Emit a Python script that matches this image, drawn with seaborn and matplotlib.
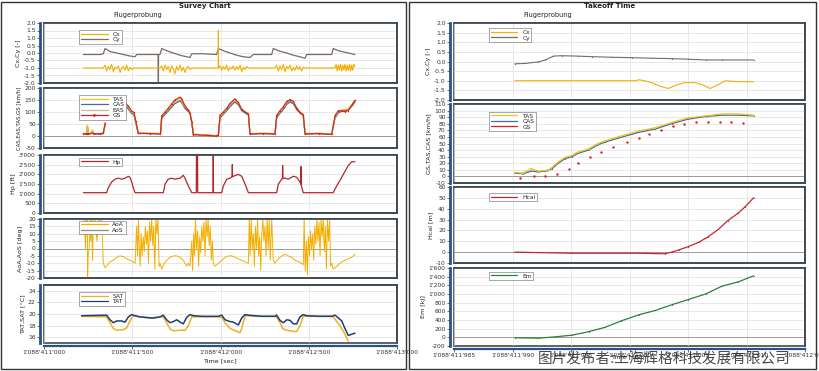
import numpy as np
import pandas as pd
import matplotlib
matplotlib.use("Agg")
import matplotlib.pyplot as plt
from matplotlib.ticker import FuncFormatter
from matplotlib.lines import Line2D
from matplotlib.patches import Rectangle
import seaborn as sns

# ======================= DATA =======================
LEFT_T0 = 1088411000
RIGHT_T0 = 1088411985

# ---- left panel (Survey Chart), time offsets in s ----
CX_T = [223, 300,
        336, 346, 355, 364, 374, 383, 393, 402, 412, 421, 431, 440, 449, 459, 468, 478, 487, 497, 506, 516,
        600,
        657, 667, 676, 686, 695, 704, 714, 723, 733, 741, 752, 761, 771, 780, 789, 799, 808, 818, 827, 837,
        920, 987, 988, 989,
        997, 1007, 1016, 1026, 1035, 1045, 1054, 1064, 1073, 1082, 1092, 1101, 1111, 1120, 1129, 1139, 1148, 1158,
        1230,
        1309, 1318, 1328, 1337, 1347, 1356, 1366, 1375, 1384, 1394, 1403, 1413, 1422, 1432, 1441, 1450, 1460, 1469, 1479,
        1560,
        1649, 1655, 1661, 1668, 1674, 1680, 1687, 1693, 1699, 1705, 1712, 1718, 1724, 1731, 1737, 1743, 1749, 1755, 1762]
CX_V = [-1.0, -1.0,
        -1.0, -0.8, -1.2, -0.9, -1.1, -0.75, -1.25, -0.95, -1.05, -0.85, -1.3, -1.0, -0.9, -1.15, -0.8, -1.2, -0.95, -1.1, -1.0, -1.0,
        -1.0,
        -1.0, -0.85, -1.2, -0.8, -1.1, -0.9, -1.3, -0.85, -1.05, -1.4, -0.9, -1.15, -0.8, -1.2, -0.95, -1.3, -1.0, -0.9, -1.1, -1.0,
        -1.0, -1.0, 1.5, -1.0,
        -0.85, -1.15, -0.9, -1.1, -0.8, -1.2, -0.95, -1.05, -0.85, -1.15, -0.9, -1.1, -0.8, -1.25, -0.95, -1.1, -0.9, -1.0,
        -1.0,
        -1.0, -0.8, -1.2, -0.85, -1.1, -0.75, -1.25, -0.9, -1.05, -0.8, -1.2, -0.95, -1.15, -0.85, -1.1, -0.9, -1.2, -0.95, -1.0,
        -1.0,
        -1.0, -0.75, -1.2, -0.8, -1.15, -0.75, -1.2, -0.8, -1.15, -0.75, -1.2, -0.8, -1.15, -0.75, -1.2, -0.8, -1.15, -0.75, -0.9]

CY_T = [223, 320, 336, 346, 374, 412, 449, 487, 516, 525,
        600, 647, 648, 649, 657, 667, 695, 733, 771, 808,
        827, 837, 900, 978, 988, 1016, 1054, 1092, 1129, 1167,
        1186, 1290, 1299, 1328, 1375, 1413, 1450, 1479, 1488, 1630,
        1639, 1668, 1705, 1743, 1762]
CY_V = [-0.1, -0.1, -0.05, 0.3, 0.1, 0.0, -0.1, -0.2, -0.25, -0.1,
        -0.1, -0.1, -2.0, -0.1, -0.1, 0.3, 0.15, 0.0, -0.15, -0.25,
        -0.3, -0.05, -0.05, -0.1, 0.3, 0.15, 0.0, -0.15, -0.25, -0.3,
        -0.1, -0.1, 0.3, 0.15, 0.0, -0.15, -0.25, -0.35, -0.1, -0.1,
        0.3, 0.15, 0.05, -0.05, -0.1]

SPD_T = [223, 240, 246, 252, 270, 275, 281, 320, 336, 346, 380,
         431, 450, 478, 497, 510, 520, 534, 600, 660,
         667, 686, 704, 723, 741, 771, 780, 799, 818, 827, 837, 846, 920, 975,
         988, 997, 1016, 1035, 1054, 1082, 1101, 1120, 1139, 1158, 1167, 1240,
         1309, 1318, 1337, 1356, 1375, 1394, 1413, 1432, 1450, 1469, 1479, 1560,
         1630, 1649, 1668, 1687, 1705, 1724, 1743, 1762]
TAS_V = [10, 10, 45, 10, 12, 25, 10, 10, 12, 50, np.nan,
         145, 140, 120, 100, 95, 60, 12, 12, 11,
         82, 96, 112, 128, 145, 158, 150, 122, 110, 100, 62, 8, 5, 2,
         5, 82, 96, 112, 132, 152, 138, 112, 102, 95, 10, 12,
         10, 82, 102, 118, 140, 150, 142, 116, 102, 92, 10, 12,
         8, 82, 102, 110, 110, 114, 130, 150]
CAS_V = [8, 8, 40, 8, 10, 22, 8, 8, 10, 45, np.nan,
         135, 132, 112, 94, 88, 55, 10, 10, 9,
         75, 90, 104, 120, 135, 146, 140, 115, 102, 94, 57, 6, 3, 0,
         3, 76, 90, 105, 123, 142, 130, 106, 96, 88, 8, 10,
         8, 76, 95, 110, 132, 142, 134, 110, 96, 86, 8, 10,
         6, 76, 96, 104, 105, 108, 124, 142]
EAS_V = [9, 9, 42, 9, 11, 23, 9, 9, 11, 47, np.nan,
         138, 135, 115, 96, 90, 57, 11, 11, 10,
         78, 92, 107, 123, 139, 150, 143, 117, 104, 96, 59, 7, 4, 1,
         4, 78, 92, 108, 126, 146, 133, 108, 98, 90, 9, 11,
         9, 78, 97, 113, 135, 146, 137, 112, 98, 88, 9, 11,
         7, 78, 98, 106, 107, 110, 126, 145]
GS_V = [10, 10, 10, 10, 12, 12, 10, 10, 12, 55, np.nan,
        150, 145, 125, 103, 98, 62, 12, 10, 8,
        85, 100, 116, 134, 150, 162, 155, 126, 108, 96, 60, 6, 3, 0,
        4, 86, 100, 116, 136, 155, 140, 112, 100, 92, 9, 10,
        9, 86, 106, 122, 144, 152, 144, 115, 98, 88, 9, 10,
        7, 86, 106, 104, 102, 106, 128, 148]

HP_T = [223, 355, 364, 383, 402, 421, 440, 459, 478, 487, 497, 506, 516,
        676, 686, 704, 723, 741, 771, 789, 799, 818, 837,
        863, 864, 870, 871, 958, 959, 960,
        1007, 1016, 1035, 1054, 1066, 1067, 1068, 1073, 1101, 1120, 1139, 1158,
        1318, 1328, 1347, 1351, 1352, 1353, 1366, 1384, 1413, 1432, 1450, 1455, 1456, 1457, 1469,
        1639, 1649, 1668, 1687, 1705, 1724, 1743, 1762]
HP_V = [1050, 1050, 1300, 1600, 1750, 1800, 1750, 1800, 1900, 1850, 1600, 1300, 1050,
        1050, 1500, 1750, 1800, 1750, 1800, 1950, 1800, 1400, 1050,
        1050, 3100, 3100, 1050, 1050, 3100, 1050,
        1050, 1400, 1750, 1800, 1880, 2500, 1880, 1900, 2000, 1900, 1500, 1050,
        1050, 1500, 1750, 1780, 2450, 1780, 1800, 1750, 1900, 1850, 1600, 1500, 2400, 1450, 1050,
        1050, 1250, 1550, 1850, 2150, 2450, 2650, 2650]

AOA_T = [223, 228, 235, 240, 246, 247, 250, 256, 262, 265, 270, 275, 280, 290, 300, 310, 317, 322, 327,
         336, 346, 355, 374, 393, 412, 431, 449, 468, 487, 506, 516,
         525, 530, 535, 540, 545, 550, 556, 562, 568, 574, 580, 586, 592, 598, 604, 610, 616, 622, 628, 634, 640, 646, 652,
         657, 667, 676, 695, 714, 733, 752, 771, 789, 799, 808, 818, 827,
         837, 842, 848, 853, 858, 864, 870, 876, 882, 888, 894, 900, 906, 912, 918, 924, 930, 936, 942, 948, 954,
         959, 970, 988, 1007, 1026, 1045, 1064, 1082, 1101, 1120, 1139, 1158,
         1163, 1168, 1174, 1180, 1186, 1192, 1198, 1204, 1210, 1216, 1222, 1228, 1234, 1240, 1246, 1252, 1258, 1264, 1270, 1276, 1282, 1290,
         1299, 1309, 1328, 1347, 1366, 1384, 1403, 1422, 1441, 1460, 1469,
         1474, 1480, 1486, 1492, 1498, 1504, 1510, 1516, 1522, 1528, 1534, 1540, 1546, 1552, 1558, 1564, 1570, 1576, 1582, 1588, 1594, 1600, 1606, 1612, 1618, 1624, 1630,
         1639, 1649, 1668, 1687, 1705, 1724, 1743, 1762]
AOA_V = [20, 20, 0, 20, 20, -20, -5, 0, 20, 5, 20, -8, 20, 20, 5, 20, 20, 10, 20,
         -10, -13, -12, -9, -8, -6, -5, -5.5, -7, -8, -9, -10,
         15, -5, 20, 0, -12, 10, -5, 8, -2, 15, 3, 12, -10, 18, 5, 20, 2, 15, -14, 20, 10, 20, -12,
         -10, -14, -11, -8, -6, -5, -5, -6, -8, -10, -12, -10, -12,
         5, -15, 10, -5, 20, 0, 12, -12, 8, -3, 15, 5, 18, -5, 20, 8, 20, 2, 15, -8, 5,
         -10, -12, -10, -8, -6, -5, -5, -6, -7, -8, -9, -10,
         20, -5, 20, 0, 10, -12, 15, 0, 20, -5, 8, -15, 10, 20, 5, 15, -5, 20, 0, 20, -8, 20,
         -8, -10, -7, -5, -4, -5, -6, -8, -9, -10, -11,
         20, -15, 5, -18, 8, -5, 12, 0, 10, -8, 15, 3, 20, 5, 18, -5, 20, 8, 20, -2, 15, -14, 20, 5, 20, -12, -10,
         -14, -13, -11, -9, -8, -7, -6, -4]

TAT_T = [213, 355, 374, 393, 412, 440, 459, 478, 497, 516,
         544, 582, 619, 657, 676, 695, 714, 733, 752, 771,
         789, 808, 827, 846, 900, 988, 1007, 1026, 1054, 1073,
         1101, 1120, 1139, 1158, 1230, 1309, 1318, 1337, 1356, 1375,
         1394, 1413, 1432, 1450, 1469, 1488, 1560, 1630, 1649, 1668,
         1687, 1705, 1724, 1743, 1762]
TAT_V = [19.7, 19.8, 19.0, 18.5, 18.8, 18.8, 18.6, 19.5, 19.9, 19.7,
         19.5, 19.4, 19.3, 19.5, 19.8, 19.0, 18.5, 18.7, 19.0, 18.6,
         18.3, 19.4, 19.9, 19.7, 19.6, 19.6, 19.8, 19.0, 18.7, 18.6,
         18.1, 19.3, 19.9, 19.8, 19.6, 19.6, 19.8, 18.9, 18.5, 19.0,
         18.9, 18.3, 18.3, 19.5, 19.9, 19.7, 19.6, 19.6, 19.8, 19.3,
         18.8, 17.5, 16.3, 16.5, 16.7]
SAT_T = [213, 355, 374, 393, 412, 449, 468, 487, 506, 544,
         600, 657, 676, 695, 714, 733, 771, 799, 818, 837,
         900, 988, 1007, 1026, 1054, 1092, 1111, 1120, 1139, 1230,
         1309, 1318, 1337, 1356, 1375, 1413, 1432, 1450, 1469, 1560,
         1630, 1639, 1677, 1705, 1724]
SAT_V = [19.6, 19.5, 18.5, 17.5, 17.2, 17.3, 17.6, 18.8, 19.7, 19.5,
         19.3, 19.5, 19.5, 18.5, 17.4, 17.1, 17.2, 17.2, 18.0, 19.5,
         19.5, 19.5, 19.4, 18.5, 17.5, 17.0, 16.8, 17.5, 19.7, 19.6,
         19.6, 19.5, 18.5, 17.4, 17.2, 17.0, 17.0, 18.0, 19.6, 19.6,
         19.6, 19.5, 18.0, 16.5, 15.3]

# ---- right panel (Takeoff Time), time offsets in s ----
RCY_T = [5.2, 6.1, 7.2, 7.8, 8.5, 9.2, 10.6, 11.8, 13.5, 15.2, 16.9, 18.6, 20.0, 21.5, 22.9, 25.6]
RCY_V = [-0.12, -0.1, -0.02, 0.08, 0.28, 0.3, 0.28, 0.25, 0.22, 0.2, 0.17, 0.15, 0.12, 0.08, 0.08, 0.08]
RCX_T = [5.2, 10.1, 15.5, 15.8, 16.3, 16.9, 17.7, 18.3, 18.9, 19.7, 20.6, 21.2, 21.9, 22.6, 23.2, 24.3, 25.6]
RCX_V = [-1.0, -1.0, -1.0, -0.95, -1.0, -1.1, -1.3, -1.4, -1.25, -1.1, -1.1, -1.2, -1.4, -1.2, -1.0, -1.05, -1.05]

RSPD_T = [5.2, 5.9, 6.6, 7.2, 7.8, 8.1, 8.4, 8.9, 9.5, 10.1, 10.6, 11.5, 12.3, 12.9, 14.0, 15.2, 15.8,
          17.2, 18.6, 20.0, 21.5, 22.9, 24.3, 25.6]
RTAS_V = [6, 5, 12, 8, 9, 10, 14, 22, 29, 32, 37, 42, 50, 54, 60, 66, 69, 74, 82, 89, 92, 95, 95, 93]
RCAS_V = [5, 4, 8, 7, 8, 9, 12, 20, 27, 30, 35, 40, 48, 52, 58, 64, 67, 72, 80, 87, 91, 93, 93, 92]
RGS_T = [5.6, 6.8, 7.8, 8.8, 9.8, 10.6, 11.6, 12.6, 13.6, 14.8, 15.8, 16.7, 17.7, 18.7, 19.7, 20.7,
         21.7, 22.7, 23.7, 24.7]
RGS_V = [-2, 0, 1, 4, 11, 20, 29, 37, 45, 52, 59, 64, 70, 77, 80, 82, 83, 83, 83, 81]

HCAL_T = [5.2, 10.1, 15.8, 18.0, 18.6, 19.2, 20.0, 20.9, 21.7, 22.6, 23.4, 24.3, 24.9, 25.6]
HCAL_V = [0, -1, -1, -1.5, 0, 2, 5, 9, 14, 21, 29, 36, 42, 50]

EM_T = [5.2, 7.2, 8.6, 10.1, 11.5, 12.9, 14.3, 15.8, 17.2, 18.6, 20.0, 21.5, 22.9, 24.3, 25.6]
EM_V = [-10, -20, 10, 50, 130, 230, 380, 520, 620, 750, 870, 1000, 1180, 1280, 1420]

# ======================= STYLE =======================
sns.set_theme(style="whitegrid")
plt.rcParams['font.family'] = ['DejaVu Sans', 'Noto Sans CJK SC']

W, H = 819, 371
fig = plt.figure(figsize=(W / 100, H / 100), dpi=100)
fig.patch.set_facecolor('white')

C_ORANGE = '#f5ae00'
C_CY = '#7a6a62'
C_TAS = '#f2c21b'
C_CAS = '#4a6c9b'
C_EAS = '#c9b99b'
C_GS = '#d42020'
C_HP = '#b3262a'
C_SAT = '#f0b020'
C_TAT = '#1f3d7a'
C_HCAL = '#c4262c'
C_EM = '#2f7d3a'
FRAME = '#3e4852'
SPINE = '#2b4f8f'


def px_axes(x0, y0, x1, y1):
    return fig.add_axes([x0 / W, 1 - y1 / H, (x1 - x0) / W, (y1 - y0) / H])


def apostrophe(x, pos=None):
    return f"{x:,.0f}".replace(",", "'")


def draw(ax, t, v, t0, color, lw=0.8, **kw):
    t = np.asarray(t, float) + t0
    v = np.asarray(v, float)
    seg = np.cumsum(np.isnan(v))
    ok = ~np.isnan(v)
    df = pd.DataFrame({'t': t[ok], 'v': v[ok], 'seg': seg[ok]})
    sns.lineplot(data=df, x='t', y='v', units='seg', estimator=None, sort=False,
                 color=color, linewidth=lw, ax=ax, legend=False, **kw)


def style(ax, ylim, yticks, yfmt, ylabel, xlim, xticks, bottom, ylab_fs=4.6):
    ax.set_xlim(xlim)
    ax.set_ylim(ylim)
    ax.set_yticks(yticks)
    ax.yaxis.set_major_formatter(FuncFormatter(yfmt))
    ax.set_xticks(xticks)
    ax.xaxis.set_major_formatter(FuncFormatter(apostrophe))
    ax.grid(True, color='#dedede', lw=0.5)
    ax.set_axisbelow(True)
    ax.set_facecolor('white')
    for s in ['top', 'right', 'bottom']:
        ax.spines[s].set_color(FRAME)
        ax.spines[s].set_linewidth(1.2)
        ax.spines[s].set_visible(True)
    ax.spines['left'].set_position(('outward', 3))
    ax.spines['left'].set_color(SPINE)
    ax.spines['left'].set_linewidth(2.0)
    ax.spines['left'].set_visible(True)
    ax.patch.set_edgecolor(FRAME)
    ax.patch.set_linewidth(1.2)
    ax.tick_params(axis='y', labelsize=4.3, length=2, width=0.5, pad=1, colors='#333333', left=True)
    if bottom:
        ax.spines['bottom'].set_position(('outward', 2))
        ax.spines['bottom'].set_color(SPINE)
        ax.spines['bottom'].set_linewidth(1.6)
        ax.tick_params(axis='x', labelsize=4.3, length=2, width=0.5, pad=1, colors='#333333', bottom=True)
    else:
        ax.tick_params(axis='x', labelbottom=False, length=0)
    ax.set_xlabel('')
    ax.set_ylabel(ylabel, fontsize=ylab_fs, labelpad=2, color='#222222')


def legend(ax, items, anchor):
    handles = [Line2D([], [], color=c, lw=0.9, marker=m, markersize=2) for _, c, m in items]
    labels = [lab for lab, _, _ in items]
    leg = ax.legend(handles, labels, loc='upper left', bbox_to_anchor=anchor, fontsize=4.3,
                    frameon=True, fancybox=False, edgecolor='#666666', framealpha=1,
                    handlelength=4.5, handletextpad=0.8, borderpad=0.25, labelspacing=0.05,
                    borderaxespad=0)
    leg.get_frame().set_linewidth(0.4)


def fmt1(x, pos=None):
    return f"{x:.1f}"


def fmt0(x, pos=None):
    return apostrophe(x)


LXLIM = (LEFT_T0, LEFT_T0 + 2000)
LXT = [LEFT_T0 + d for d in (0, 500, 1000, 1500, 2000)]
RXLIM = (RIGHT_T0, RIGHT_T0 + 30)
RXT = [RIGHT_T0 + d for d in (0, 5, 10, 15, 20, 25, 30)]

# ---------------- left panel ----------------
ax = px_axes(44, 23, 397, 83)
draw(ax, CY_T, CY_V, LEFT_T0, C_CY, lw=0.9)
draw(ax, CX_T, CX_V, LEFT_T0, C_ORANGE, lw=0.8)
style(ax, (-2, 2), np.arange(-2, 2.01, 0.5), fmt1, 'Cx,Cy [-]', LXLIM, LXT, False)
legend(ax, [('Cx', C_ORANGE, None), ('Cy', C_CY, None)], (0.10, 0.88))

ax = px_axes(44, 88, 397, 148)
ax.axhline(0, color='#9a9a9a', lw=0.7, zorder=1)
draw(ax, SPD_T, EAS_V, LEFT_T0, C_EAS, lw=0.9)
draw(ax, SPD_T, CAS_V, LEFT_T0, C_CAS, lw=0.9)
draw(ax, SPD_T, TAS_V, LEFT_T0, C_TAS, lw=0.9)
draw(ax, SPD_T, GS_V, LEFT_T0, C_GS, lw=0.8, marker='.', markersize=2, markeredgewidth=0)
style(ax, (-50, 200), np.arange(-50, 201, 50), fmt0, 'CAS,EAS,TAS,GS [km/h]', LXLIM, LXT, False, ylab_fs=3.9)
legend(ax, [('TAS', C_TAS, None), ('CAS', C_CAS, None), ('EAS', C_EAS, None), ('GS', C_GS, '.')], (0.10, 0.88))

ax = px_axes(44, 155, 397, 213)
draw(ax, HP_T, HP_V, LEFT_T0, C_HP, lw=0.9)
style(ax, (0, 3000), np.arange(0, 3001, 500), fmt0, 'Hp [ft]', LXLIM, LXT, False)
legend(ax, [('Hp', C_HP, None)], (0.10, 0.95))

ax = px_axes(44, 219, 397, 278)
ax.axhline(0, color='#9a9a9a', lw=0.7, zorder=1)
draw(ax, AOA_T, AOA_V, LEFT_T0, C_ORANGE, lw=0.7)
style(ax, (-20, 20), np.arange(-20, 21, 5), fmt0, 'AoA,AoS [deg]', LXLIM, LXT, False)
legend(ax, [('AoA', C_ORANGE, None), ('AoS', '#8c8c8c', None)], (0.10, 0.97))

ax = px_axes(44, 285, 397, 343)
draw(ax, SAT_T, SAT_V, LEFT_T0, C_SAT, lw=1.1)
draw(ax, TAT_T, TAT_V, LEFT_T0, C_TAT, lw=1.1)
style(ax, (15, 25), np.arange(16, 25, 2), fmt0, 'TAT,SAT [°C]', LXLIM, LXT, True)
legend(ax, [('SAT', C_SAT, None), ('TAT', C_TAT, None)], (0.10, 0.88))

# ---------------- right panel ----------------
ax = px_axes(454, 23, 805, 100)
draw(ax, RCY_T, RCY_V, RIGHT_T0, C_CY, lw=0.8, marker='.', markersize=1.8, markeredgewidth=0)
draw(ax, RCX_T, RCX_V, RIGHT_T0, C_ORANGE, lw=0.8)
style(ax, (-2, 2), np.arange(-2, 2.01, 0.5), fmt1, 'Cx,Cy [-]', RXLIM, RXT, False)
legend(ax, [('Cx', C_ORANGE, None), ('Cy', C_CY, None)], (0.10, 0.93))

ax = px_axes(454, 104, 805, 183)
ax.axhline(0, color='#9a9a9a', lw=0.7, zorder=1)
draw(ax, RSPD_T, RCAS_V, RIGHT_T0, C_CAS, lw=0.9, marker='.', markersize=1.6, markeredgewidth=0)
draw(ax, RSPD_T, RTAS_V, RIGHT_T0, C_TAS, lw=0.9, marker='.', markersize=1.6, markeredgewidth=0)
sns.scatterplot(x=np.asarray(RGS_T) + RIGHT_T0, y=RGS_V, ax=ax, color=C_GS, s=3, linewidth=0, legend=False)
style(ax, (-10, 110), np.arange(-10, 111, 10), fmt0, 'GS,TAS,CAS [km/h]', RXLIM, RXT, False)
legend(ax, [('TAS', C_TAS, None), ('CAS', C_CAS, None), ('GS', C_GS, None)], (0.10, 0.90))

ax = px_axes(454, 187, 805, 263)
ax.axhline(0, color='#9a9a9a', lw=0.7, zorder=1)
draw(ax, HCAL_T, HCAL_V, RIGHT_T0, C_HCAL, lw=0.9, marker='.', markersize=1.6, markeredgewidth=0)
style(ax, (-10, 60), np.arange(-10, 61, 10), fmt0, 'Hcal [m]', RXLIM, RXT, False)
legend(ax, [('Hcal', C_HCAL, None)], (0.10, 0.92))

ax = px_axes(454, 268, 805, 346)
ax.axhline(0, color='#9a9a9a', lw=0.7, zorder=1)
draw(ax, EM_T, EM_V, RIGHT_T0, C_EM, lw=0.9, marker='.', markersize=1.6, markeredgewidth=0)
style(ax, (-200, 1600), np.arange(-200, 1601, 200), fmt0, 'Em [kJ]', RXLIM, RXT, True)
legend(ax, [('Em', C_EM, None)], (0.10, 0.95))

# ---------------- panel frames and texts ----------------
fig.add_artist(Rectangle((1 / W, 2 / H), 405 / W, 367 / H, transform=fig.transFigure,
                         fill=False, ec='#333333', lw=1.0))
fig.add_artist(Rectangle((409 / W, 2 / H), 407 / W, 367 / H, transform=fig.transFigure,
                         fill=False, ec='#333333', lw=1.0))

fig.text(205 / W, 1 - 6 / H, 'Survey Chart', fontsize=5, fontweight='bold', ha='center', va='center', color='#222222')
fig.text(138 / W, 1 - 15 / H, 'Flugerprobung', fontsize=4.8, ha='center', va='center', color='#222222')
fig.text(610 / W, 1 - 6 / H, 'Takeoff Time', fontsize=5, fontweight='bold', ha='center', va='center', color='#222222')
fig.text(548 / W, 1 - 15 / H, 'Flugerprobung', fontsize=4.8, ha='center', va='center', color='#222222')
fig.text(220 / W, 1 - 361 / H, 'Time [sec]', fontsize=4.6, ha='center', va='center', color='#222222')
fig.text(628 / W, 1 - 357 / H, 'Time [sec]', fontsize=4.6, ha='center', va='center', color='#222222')

fig.text(538 / W, 1 - 359 / H, '图片发布者:上海辉格科技发展有限公司', fontsize=10.5,
         family=['Noto Sans CJK SC', 'DejaVu Sans'], ha='left', va='center', color='#2a2a2a', alpha=0.85)

fig.savefig('out.png', dpi=100, facecolor='white')
